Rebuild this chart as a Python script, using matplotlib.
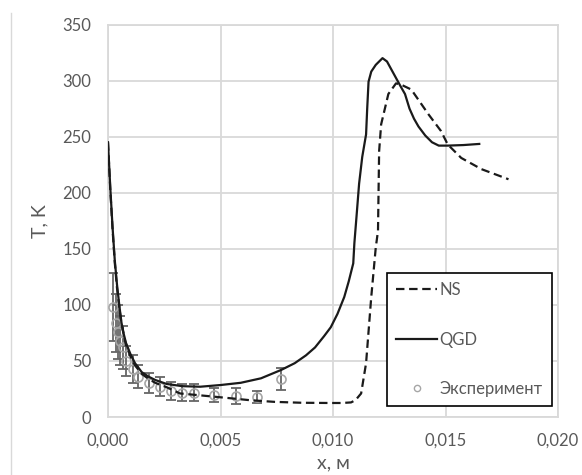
import matplotlib

matplotlib.use("Agg")
import matplotlib.pyplot as plt
from matplotlib.lines import Line2D
from matplotlib.ticker import FuncFormatter, MultipleLocator

plt.rcParams["font.family"] = ["Lato", "DejaVu Sans"]

# QGD solution
qgd_x = [0, 0.0001, 0.0002, 0.0003, 0.0004, 0.0005, 0.0006, 0.0007, 0.0008, 0.001,
         0.0012, 0.0015, 0.0018, 0.0021, 0.0026, 0.0033, 0.0041, 0.005, 0.0059, 0.0068,
         0.0077, 0.0083, 0.0088, 0.0092, 0.0096, 0.0099, 0.0102, 0.0105, 0.0107, 0.0109,
         0.01095, 0.01105, 0.01116, 0.0113, 0.01147, 0.01152, 0.01158, 0.0117, 0.0119, 0.01205,
         0.0122, 0.0124, 0.0127, 0.013, 0.0132, 0.0134, 0.0136, 0.0138, 0.0141, 0.0144,
         0.0147, 0.0151, 0.0158, 0.0165]
qgd_t = [245, 205, 170, 140, 118, 100, 84, 74, 66, 56,
         48, 40, 36, 33, 29.5, 27.5, 27, 28.5, 30.5, 34.5,
         42, 48, 55, 62, 72, 80, 92, 107, 121, 137,
         155, 180, 208, 232, 252, 275, 299, 308, 314, 317,
         320, 317, 306, 295, 288, 275, 266, 259, 251, 245,
         242, 242, 242.5, 243.5]

# Navier-Stokes solution
ns_x = [0, 0.0001, 0.0002, 0.0003, 0.0004, 0.0005, 0.0006, 0.0008, 0.001, 0.0012,
        0.0015, 0.0018, 0.0021, 0.0026, 0.0032, 0.004, 0.0053, 0.0063, 0.0074, 0.0086,
        0.0098, 0.0104, 0.0108, 0.011, 0.01125, 0.01147, 0.0117, 0.0119, 0.012, 0.01205,
        0.01214, 0.01246, 0.0128, 0.013, 0.01348, 0.01424, 0.0148, 0.0151, 0.0157, 0.0166,
        0.0178]
ns_t = [245, 203, 168, 138, 115, 98, 83, 64, 54, 46,
        38.5, 34, 30.5, 26.6, 21, 19.5, 17, 15, 13.5, 12.7,
        12.5, 12.5, 13, 15, 21, 48, 107, 151, 166, 237,
        261, 288, 297.5, 296.6, 292, 270, 255, 243, 231, 221,
        212]

# experiment with error bars
exp_x = [0.0002, 0.00035, 0.00045, 0.00055, 0.00065, 0.0008, 0.0011, 0.00135, 0.0018,
         0.0023, 0.0028, 0.0033, 0.0038, 0.0047, 0.0057, 0.0066, 0.0077]
exp_t = [98, 84, 76, 68, 62, 50, 43, 36, 30.5, 27, 23.5, 21.6, 21.6, 19.5, 18.5, 18, 34]
exp_err = [30, 26, 24, 22, 19, 13, 12.5, 10, 9, 8.5, 8, 7.5, 7.5, 6.5, 7, 5.5, 10]

grid_c = "#d9d9d9"
text_c = "#595959"

fig = plt.figure(figsize=(5.82, 4.75), dpi=100)
ax = fig.add_axes([108 / 582, 1 - 417 / 475, 450 / 582, 392.5 / 475])

ax.errorbar(exp_x, exp_t, yerr=exp_err, fmt="none", ecolor="#666666",
            elinewidth=1.3, capsize=3.5, capthick=1.3, zorder=2)
ax.plot(exp_x, exp_t, "o", ms=6.5, mfc="none", mec="#a6a6a6", mew=1.2, zorder=3)
ax.plot(ns_x, ns_t, color="#1a1a1a", lw=1.6, dashes=(3.8, 2.1), zorder=4)
ax.plot(qgd_x, qgd_t, color="#1a1a1a", lw=1.6, zorder=5)

ax.set_xlim(0, 0.02)
ax.set_ylim(0, 350)
ax.xaxis.set_major_locator(MultipleLocator(0.005))
ax.yaxis.set_major_locator(MultipleLocator(50))
ax.xaxis.set_major_formatter(FuncFormatter(lambda v, p: f"{v:.3f}".replace(".", ",")))
ax.grid(True, color=grid_c, lw=1.3)
ax.set_axisbelow(True)
for s in ax.spines.values():
    s.set_color(grid_c)
    s.set_linewidth(1.3)
ax.tick_params(length=0, labelsize=12, colors=text_c)
ax.tick_params(axis="x", pad=11)
ax.tick_params(axis="y", pad=12)
ax.set_xlabel("x, м", fontsize=14, color=text_c, labelpad=4.5)
ax.set_ylabel("T, K", fontsize=14, color=text_c, labelpad=10)

handles = [
    Line2D([], [], color="#1a1a1a", lw=1.6, dashes=(3.8, 2.1)),
    Line2D([], [], color="#1a1a1a", lw=1.6),
    Line2D([], [], ls="none", marker="o", ms=4.5, mfc="none", mec="#a6a6a6", mew=1),
]
leg = ax.legend(handles, ["NS", "QGD", "Эксперимент"], loc="upper left",
                bbox_to_anchor=(387 / 582, 1 - 273 / 475), bbox_transform=fig.transFigure,
                borderaxespad=0, fontsize=12, labelcolor=text_c, fancybox=False,
                edgecolor="black", framealpha=1, handlelength=2.45, handletextpad=0.15,
                labelspacing=2.0, borderpad=0.55)
leg.get_frame().set_linewidth(1.2)

# outer chart border on the left
fig.add_artist(Line2D([11 / 582, 11 / 582], [0, 1 - 12.7 / 475],
                      transform=fig.transFigure, color=grid_c, lw=1))

fig.savefig("out.png", dpi=100)
